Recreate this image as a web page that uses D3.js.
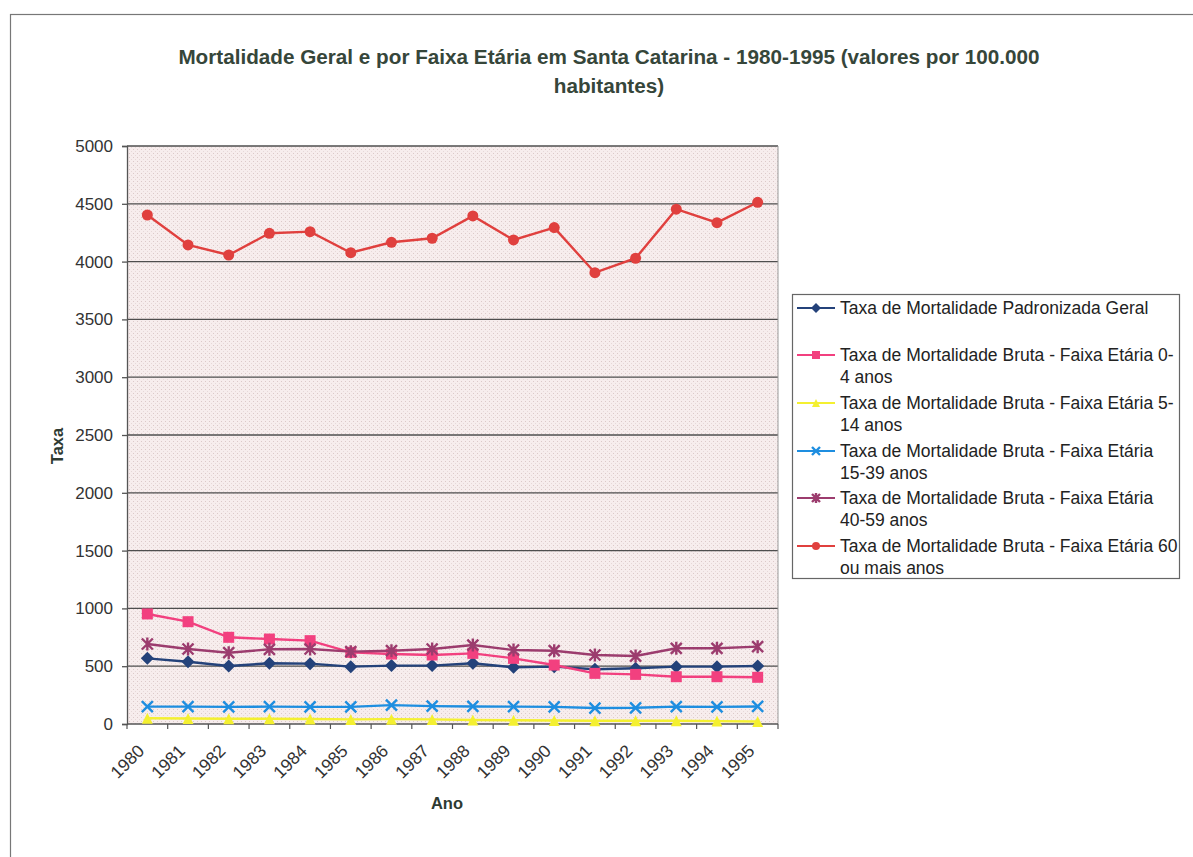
<!DOCTYPE html>
<html>
<head>
<meta charset="utf-8">
<script src="https://cdn.jsdelivr.net/npm/d3@7"></script>
<style>
  html, body { margin: 0; padding: 0; background: #ffffff; }
  svg { display: block; font-family: Arial, "Liberation Sans", sans-serif; }
</style>
</head>
<body>
<svg id="chart" width="1193" height="857"></svg>
<script>
// Anos da série
const years = ["1980","1981","1982","1983","1984","1985","1986","1987",
               "1988","1989","1990","1991","1992","1993","1994","1995"];

// Taxas por 100.000 habitantes
const geral     = [568, 539, 502, 525, 522, 496, 505, 505, 525, 490, 496, 473, 482, 496, 496, 502];
const faixa0a4  = [952, 885, 750, 735, 721, 620, 605, 597, 611, 568, 510, 438, 429, 409, 409, 404];
const faixa5a14 = [50, 48, 45, 45, 43, 40, 42, 40, 35, 32, 30, 28, 28, 28, 25, 22];
const faixa15a39 = [150, 150, 148, 150, 148, 148, 163, 155, 152, 150, 148, 138, 140, 150, 148, 152];
const faixa40a59 = [692, 649, 617, 646, 649, 626, 634, 649, 683, 640, 634, 597, 588, 655, 655, 669];
const faixa60mais = [4403, 4144, 4057, 4245, 4259, 4077, 4167, 4202, 4395, 4187, 4294, 3904, 4029, 4453, 4337, 4513];

const yTicks = [0, 500, 1000, 1500, 2000, 2500, 3000, 3500, 4000, 4500, 5000];

const seriesNames = [
  ["Taxa de Mortalidade Padronizada Geral"],
  ["Taxa de Mortalidade Bruta - Faixa Etária 0-", "4 anos"],
  ["Taxa de Mortalidade Bruta - Faixa Etária 5-", "14 anos"],
  ["Taxa de Mortalidade Bruta - Faixa Etária", "15-39 anos"],
  ["Taxa de Mortalidade Bruta - Faixa Etária", "40-59 anos"],
  ["Taxa de Mortalidade Bruta - Faixa Etária 60", "ou mais anos"]
];
const seriesValues = [geral, faixa0a4, faixa5a14, faixa15a39, faixa40a59, faixa60mais];
const seriesColors = ["#24427a", "#f2407f", "#f4f030", "#1e8ee0", "#9c3c6e", "#e0403e"];
const seriesMarkers = ["diamond", "square", "triangle", "x", "star", "circle"];

const svg = d3.select("#chart");

// moldura externa do gráfico
svg.append("rect")
  .attr("x", 10.5).attr("y", 14.5)
  .attr("width", 1195).attr("height", 860)
  .attr("fill", "#ffffff")
  .attr("stroke", "#777").attr("stroke-width", 1.2);

// título
const title = svg.append("text")
  .attr("text-anchor", "middle")
  .attr("font-size", 20.7).attr("font-weight", "bold")
  .attr("fill", "#36463a");
title.append("tspan").attr("x", 609).attr("y", 64)
  .text("Mortalidade Geral e por Faixa Etária em Santa Catarina - 1980-1995 (valores por 100.000");
title.append("tspan").attr("x", 609).attr("y", 93).text("habitantes)");

// área de plotagem
const plot = { left: 127, right: 778, top: 146, bottom: 724 };

const x = d3.scaleBand().domain(years).range([plot.left, plot.right]);
const y = d3.scaleLinear().domain([0, 5000]).range([plot.bottom, plot.top]);

// fundo rosado com textura pontilhada
const defs = svg.append("defs");
const pat = defs.append("pattern")
  .attr("id", "pontilhado").attr("patternUnits", "userSpaceOnUse")
  .attr("width", 4).attr("height", 4);
pat.append("rect").attr("width", 4).attr("height", 4).attr("fill", "#f7eded");
pat.append("rect").attr("x", 1).attr("y", 1).attr("width", 1).attr("height", 1).attr("fill", "#dcc9c9");
pat.append("rect").attr("x", 3).attr("y", 3).attr("width", 1).attr("height", 1).attr("fill", "#e6d8d8");

svg.append("rect")
  .attr("x", plot.left).attr("y", plot.top)
  .attr("width", plot.right - plot.left).attr("height", plot.bottom - plot.top)
  .attr("fill", "url(#pontilhado)");

// linhas de grade
svg.append("g")
  .selectAll("line")
  .data(yTicks.filter(d => d > 0))
  .join("line")
  .attr("x1", plot.left).attr("x2", plot.right)
  .attr("y1", d => y(d)).attr("y2", d => y(d))
  .attr("stroke", "#4e4e4e").attr("stroke-width", 1.3);

// borda direita da área de plotagem
svg.append("line")
  .attr("x1", plot.right).attr("x2", plot.right)
  .attr("y1", plot.top).attr("y2", plot.bottom)
  .attr("stroke", "#9a9a9a").attr("stroke-width", 1);

// eixo Y
const yAxis = svg.append("g")
  .attr("transform", `translate(${plot.left},0)`)
  .call(d3.axisLeft(y).tickValues(yTicks).tickFormat(d3.format("d")).tickSize(5).tickPadding(9));
yAxis.select(".domain").attr("stroke", "#555").attr("stroke-width", 1.3);
yAxis.selectAll(".tick line").attr("stroke", "#555").attr("stroke-width", 1.3);
yAxis.selectAll("text").attr("font-size", 17).attr("fill", "#333")
  .attr("font-family", "Arial, 'Liberation Sans', sans-serif");

// eixo X: marcas nos limites das categorias
const xAxisG = svg.append("g").attr("transform", `translate(0,${plot.bottom})`);
xAxisG.append("line")
  .attr("x1", plot.left).attr("x2", plot.right)
  .attr("stroke", "#555").attr("stroke-width", 1.3);
xAxisG.selectAll("line.tk")
  .data(years.concat(["fim"]))
  .join("line").attr("class", "tk")
  .attr("x1", (d, i) => i < years.length ? x(d) : plot.right)
  .attr("x2", (d, i) => i < years.length ? x(d) : plot.right)
  .attr("y1", 0).attr("y2", 5)
  .attr("stroke", "#555").attr("stroke-width", 1.2);
xAxisG.selectAll("text")
  .data(years)
  .join("text")
  .attr("text-anchor", "end")
  .attr("font-size", 17.5).attr("fill", "#333")
  .attr("transform", d => `translate(${x(d) + x.bandwidth() / 2 - 2},${28}) rotate(-45)`)
  .text(d => d);

// títulos dos eixos
svg.append("text")
  .attr("x", 447).attr("y", 809)
  .attr("text-anchor", "middle")
  .attr("font-size", 16.5).attr("font-weight", "bold").attr("fill", "#2e3a32")
  .text("Ano");
svg.append("text")
  .attr("transform", "translate(63,446) rotate(-90)")
  .attr("text-anchor", "middle")
  .attr("font-size", 16.5).attr("font-weight", "bold").attr("fill", "#2e3a32")
  .text("Taxa");

// marcadores
function drawMarker(g, type, color, size) {
  const s = size / 2;
  if (type === "diamond") {
    g.append("path").attr("d", `M0,${-s - 1}L${s + 1},0L0,${s + 1}L${-s - 1},0Z`).attr("fill", color);
  } else if (type === "square") {
    g.append("rect").attr("x", -s).attr("y", -s).attr("width", size).attr("height", size).attr("fill", color);
  } else if (type === "triangle") {
    g.append("path").attr("d", `M0,${-s}L${s},${s}L${-s},${s}Z`).attr("fill", color);
  } else if (type === "circle") {
    g.append("circle").attr("r", s).attr("fill", color);
  } else if (type === "x") {
    g.append("path").attr("d", `M${-s},${-s}L${s},${s}M${-s},${s}L${s},${-s}`)
      .attr("stroke", color).attr("stroke-width", 2.4).attr("fill", "none");
  } else if (type === "star") {
    g.append("path").attr("d", `M${-s},${-s}L${s},${s}M${-s},${s}L${s},${-s}M0,${-s - 1}L0,${s + 1}`)
      .attr("stroke", color).attr("stroke-width", 2.4).attr("fill", "none");
  }
}

const line = d3.line()
  .x((d, i) => x(years[i]) + x.bandwidth() / 2)
  .y(d => y(d));

const seriesG = svg.append("g");
seriesValues.forEach((vals, k) => {
  seriesG.append("path")
    .datum(vals)
    .attr("d", line)
    .attr("fill", "none")
    .attr("stroke", seriesColors[k])
    .attr("stroke-width", 2.4);
  vals.forEach((v, i) => {
    const g = seriesG.append("g")
      .attr("transform", `translate(${x(years[i]) + x.bandwidth() / 2},${y(v)})`);
    drawMarker(g, seriesMarkers[k], seriesColors[k], 11);
  });
});

// legenda
const legend = svg.append("g");
legend.append("rect")
  .attr("x", 792.5).attr("y", 294.5)
  .attr("width", 387).attr("height", 284)
  .attr("fill", "#ffffff").attr("stroke", "#666").attr("stroke-width", 1.2);

const legendRows = [308, 355, 403, 451, 498, 546];
seriesNames.forEach((lines, k) => {
  const ry = legendRows[k];
  legend.append("line")
    .attr("x1", 797).attr("x2", 835)
    .attr("y1", ry).attr("y2", ry)
    .attr("stroke", seriesColors[k]).attr("stroke-width", 1.8);
  const g = legend.append("g").attr("transform", `translate(816,${ry})`);
  drawMarker(g, seriesMarkers[k], seriesColors[k], 8);
  const t = legend.append("text")
    .attr("font-size", 17.5).attr("fill", "#222");
  lines.forEach((ln, j) => {
    t.append("tspan").attr("x", 840).attr("y", ry + 6 + j * 21.5).text(ln);
  });
});
</script>
</body>
</html>
